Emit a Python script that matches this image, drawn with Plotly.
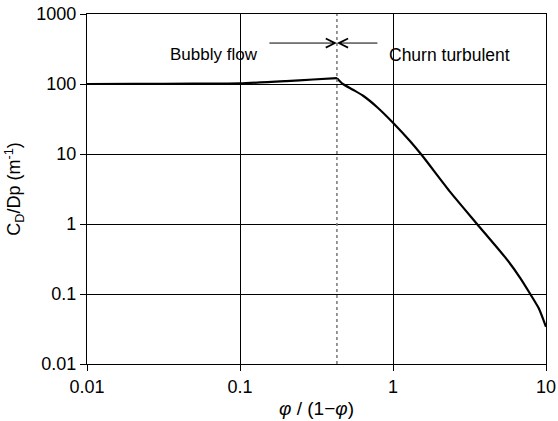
import plotly.graph_objects as go
import math

# Data (phi/(1-phi) vs CD/Dp)
bubbly_x = [0.01, 0.02, 0.05, 0.1, 0.2, 0.3, 0.43]
bubbly_y = [100, 100.5, 101.2, 102, 110, 116, 121]
churn_x = [0.43, 0.47, 0.552, 0.641, 0.785, 1.0, 1.295, 1.55, 2.37, 3.54, 5.56, 6.79, 7.89, 8.95, 10.0]
churn_y = [121, 100, 82, 67.4, 47, 28, 15.2, 9.5, 2.85, 1.0, 0.31, 0.169, 0.1, 0.063, 0.034]

regime_boundary = 0.43
x_tickvals = [0.01, 0.1, 1, 10]
x_ticktext = ["0.01", "0.1", "1", "10"]
y_tickvals = [0.01, 0.1, 1, 10, 100, 1000]
y_ticktext = ["0.01", "0.1", "1", "10", "100", "1000"]

FONT = "Liberation Sans, Arial, Helvetica, sans-serif"

fig = go.Figure()
fig.add_trace(go.Scatter(x=bubbly_x, y=bubbly_y, mode="lines",
                         line=dict(color="black", width=2.2, shape="spline", smoothing=0.5),
                         showlegend=False))
fig.add_trace(go.Scatter(x=churn_x, y=churn_y, mode="lines",
                         line=dict(color="black", width=2.2, shape="spline", smoothing=0.6),
                         showlegend=False))

fig.add_shape(type="line", xref="x", yref="paper",
              x0=regime_boundary, x1=regime_boundary, y0=0, y1=1,
              line=dict(color="#777777", width=1.5, dash="dot"))

ya = 0.917
for dx in (-69, 42):
    fig.add_annotation(x=math.log10(regime_boundary), y=ya, xref="x", yref="paper",
                       ax=dx, ay=0, axref="pixel", ayref="pixel", text="",
                       showarrow=True, arrowhead=5, arrowsize=1.8, arrowwidth=1, arrowcolor="black")
fig.add_annotation(x=math.log10(regime_boundary), y=ya, xref="x", yref="paper",
                   xshift=-123, text="Bubbly flow", showarrow=False,
                   font=dict(family=FONT, size=17, color="black"))
fig.add_annotation(x=math.log10(regime_boundary), y=ya, xref="x", yref="paper",
                   xshift=113, text="Churn turbulent", showarrow=False,
                   font=dict(family=FONT, size=17.5, color="black"))

axis_common = dict(type="log", showline=True, linecolor="black", linewidth=1.2,
                   mirror=True, showgrid=True, gridcolor="black", gridwidth=1,
                   ticks="outside", ticklen=6, tickwidth=1.2, tickcolor="black",
                   zeroline=False, tickfont=dict(family=FONT, size=18, color="black"))

fig.update_xaxes(range=[-2, 1], tickvals=x_tickvals, ticktext=x_ticktext,
                 title=dict(text="<i>φ</i> / (1−<i>φ</i>)", font=dict(family=FONT, size=19, color="black"),
                            standoff=5),
                 **axis_common)
fig.update_yaxes(range=[-2, 3], tickvals=y_tickvals, ticktext=y_ticktext,
                 title=dict(text="C<sub>D</sub>/Dp (m<sup>-1</sup>)", font=dict(family=FONT, size=18, color="black"),
                            standoff=10),
                 **axis_common)

fig.update_layout(width=558, height=421,
                  margin=dict(l=87, r=12, t=14, b=57, autoexpand=False),
                  plot_bgcolor="white", paper_bgcolor="white",
                  font=dict(family=FONT, color="black"))

fig.write_html("out.html", config={"displayModeBar": False},
               post_script="document.body.style.margin='0';document.body.style.overflow='hidden';")
